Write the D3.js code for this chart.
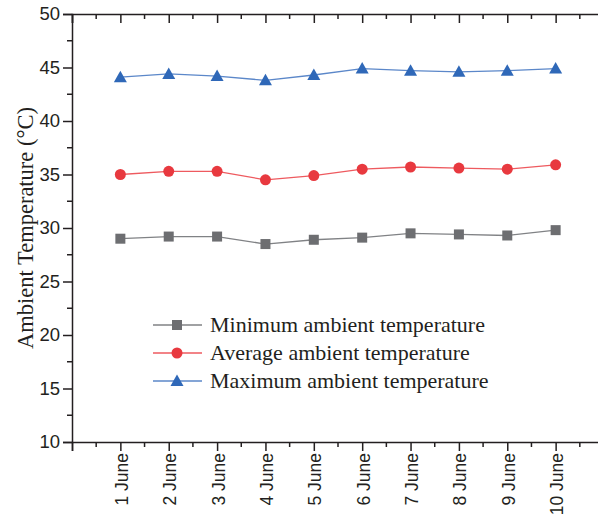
<!DOCTYPE html>
<html>
<head>
<meta charset="utf-8">
<script src="https://cdn.jsdelivr.net/npm/d3@7"></script>
<style>
  html, body { margin: 0; padding: 0; background: #fff; }
  svg { display: block; }
</style>
</head>
<body>
<svg id="chart" width="598" height="516"></svg>
<script>
// Daily ambient temperatures, 1–10 June
const days = ["1 June", "2 June", "3 June", "4 June", "5 June", "6 June", "7 June", "8 June", "9 June", "10 June"];
const minTemp = [29.0, 29.2, 29.2, 28.5, 28.9, 29.1, 29.5, 29.4, 29.3, 29.8];
const avgTemp = [35.0, 35.3, 35.3, 34.5, 34.9, 35.5, 35.7, 35.6, 35.5, 35.9];
const maxTemp = [44.1, 44.4, 44.2, 43.8, 44.3, 44.9, 44.7, 44.6, 44.7, 44.9];
const yTicks = [10, 15, 20, 25, 30, 35, 40, 45, 50];
const seriesNames = ["Minimum ambient temperature", "Average ambient temperature", "Maximum ambient temperature"];

const series = [
  { name: seriesNames[0], values: minTemp, color: "#6d6e71", line: "#808285", shape: "square" },
  { name: seriesNames[1], values: avgTemp, color: "#e8393f", line: "#ee5a5f", shape: "circle" },
  { name: seriesNames[2], values: maxTemp, color: "#2f68b8", line: "#5b87c9", shape: "triangle" }
];

const svg = d3.select("#chart");
const plotLeft = 72, plotRight = 604, plotTop = 14, plotBottom = 442;

// x positions: day index 1..10 on a 0..11 linear scale
const x = d3.scaleLinear().domain([0, 11]).range([plotLeft, plotRight]);
const y = d3.scaleLinear().domain([10, 50]).range([plotBottom, plotTop]);

const axisColor = "#231f20";
const sans = "'Liberation Sans', Arial, sans-serif";
const serif = "'Liberation Serif', 'Times New Roman', serif";

// Minor ticks
const xMajor = d3.range(0, 12);
const xMinor = d3.range(0.5, 11, 1);
const yMinor = d3.range(12.5, 50, 5);

// Bottom axis
const gx = svg.append("g").attr("transform", `translate(0,${plotBottom})`);
gx.call(d3.axisBottom(x).tickValues(xMajor).tickSize(9).tickFormat(""));
gx.select(".domain").attr("stroke", axisColor).attr("stroke-width", 1.5);
gx.selectAll(".tick line").attr("stroke", axisColor).attr("stroke-width", 1.5);
gx.selectAll(".minor").data(xMinor).join("line")
  .attr("x1", d => x(d)).attr("x2", d => x(d))
  .attr("y1", 0).attr("y2", 5)
  .attr("stroke", axisColor).attr("stroke-width", 1.5);
gx.selectAll(".lbl").data(days).join("text")
  .attr("transform", (d, i) => `translate(${x(i + 1) + 7.5},${11}) rotate(-90)`)
  .attr("text-anchor", "end")
  .attr("font-family", sans).attr("font-size", 17.5).attr("fill", axisColor)
  .text(d => d);

// Top axis (no labels, inward ticks)
const gt = svg.append("g").attr("transform", `translate(0,${plotTop})`);
gt.call(d3.axisBottom(x).tickValues(xMajor).tickSize(9).tickFormat(""));
gt.select(".domain").attr("stroke", axisColor).attr("stroke-width", 1.5);
gt.selectAll(".tick line").attr("stroke", axisColor).attr("stroke-width", 1.5);
gt.selectAll(".minor").data(xMinor).join("line")
  .attr("x1", d => x(d)).attr("x2", d => x(d))
  .attr("y1", 0).attr("y2", 5)
  .attr("stroke", axisColor).attr("stroke-width", 1.5);

// Left axis
const gy = svg.append("g").attr("transform", `translate(${plotLeft},0)`);
gy.call(d3.axisLeft(y).tickValues(yTicks).tickSize(9).tickPadding(3));
gy.select(".domain").attr("stroke", axisColor).attr("stroke-width", 1.5);
gy.selectAll(".tick line").attr("stroke", axisColor).attr("stroke-width", 1.5);
gy.selectAll(".tick text").attr("font-family", sans).attr("font-size", 18.5).attr("fill", axisColor);
gy.selectAll(".minor").data(yMinor).join("line")
  .attr("x1", 0).attr("x2", -5)
  .attr("y1", d => y(d)).attr("y2", d => y(d))
  .attr("stroke", axisColor).attr("stroke-width", 1.5);

// Y axis title
svg.append("text")
  .attr("transform", `translate(33,228) rotate(-90)`)
  .attr("text-anchor", "middle")
  .attr("font-family", serif).attr("font-size", 22.5).attr("fill", axisColor)
  .text("Ambient Temperature (°C)");

// Marker drawing
function marker(sel, shape, color) {
  if (shape === "square") {
    sel.append("rect").attr("x", -5).attr("y", -5).attr("width", 10).attr("height", 10).attr("fill", color);
  } else if (shape === "circle") {
    sel.append("circle").attr("r", 5.5).attr("fill", color);
  } else {
    sel.append("path").attr("d", "M0,-6.5 L6.5,5 L-6.5,5 Z").attr("fill", color);
  }
}

const line = d3.line().x((d, i) => x(i + 1)).y(d => y(d));

series.forEach(s => {
  svg.append("path")
    .datum(s.values)
    .attr("d", line)
    .attr("fill", "none")
    .attr("stroke", s.line)
    .attr("stroke-width", 1.3);
  svg.append("g").selectAll("g").data(s.values).join("g")
    .attr("transform", (d, i) => `translate(${x(i + 1)},${y(d)})`)
    .each(function () { marker(d3.select(this), s.shape, s.color); });
});

// Legend
const legend = svg.append("g").attr("transform", "translate(153,325)");
series.forEach((s, i) => {
  const row = legend.append("g").attr("transform", `translate(0,${i * 28})`);
  row.append("line").attr("x1", 0).attr("x2", 49).attr("y1", 0).attr("y2", 0)
    .attr("stroke", s.line).attr("stroke-width", 1.3);
  marker(row.append("g").attr("transform", "translate(24,0)"), s.shape, s.color);
  row.append("text")
    .attr("x", 57).attr("y", 7)
    .attr("font-family", serif).attr("font-size", 22).attr("fill", axisColor)
    .text(s.name);
});
</script>
</body>
</html>
